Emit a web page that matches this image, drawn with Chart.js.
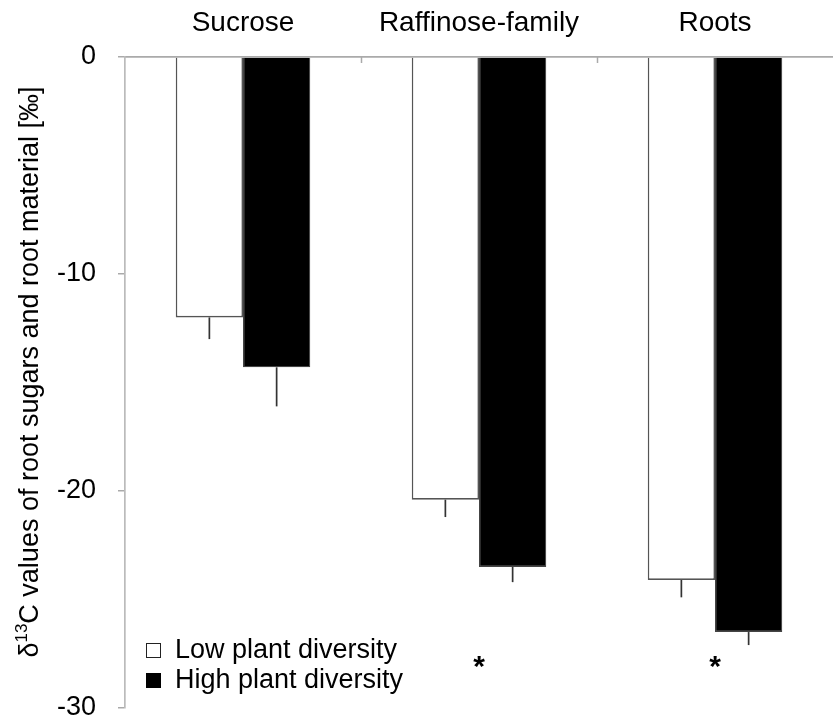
<!DOCTYPE html>
<html>
<head>
<meta charset="utf-8">
<script src="https://cdn.jsdelivr.net/npm/chart.js@4"></script>
<style>
  html, body { margin: 0; padding: 0; background: #ffffff; }
  #c { display: block; }
</style>
</head>
<body>
<canvas id="c" width="833" height="722"></canvas>
<script>
// ---- data ----
const categories = ['Sucrose', 'Raffinose-family', 'Roots'];
const seriesLabels = ['Low plant diversity', 'High plant diversity'];
const lowValues = [-12.0, -20.4, -24.1];
const highValues = [-14.3, -23.5, -26.5];
const lowErrors = [1.0, 0.8, 0.8];
const highErrors = [1.8, 0.7, 0.6];
const significance = ['', '*', '*'];
const yTicks = [0, -10, -20, -30];
const yLabelPrefix = 'δ';
const yLabelSup = '13';
const yLabelRest = 'C values of root sugars and root material [‰]';

const FONT = "'Liberation Sans', Arial, sans-serif";
const errorsBySeries = [lowErrors, highErrors];

const extrasPlugin = {
  id: 'extras',
  afterDatasetsDraw(chart) {
    const ctx = chart.ctx;
    const xs = chart.scales.x;
    const ys = chart.scales.y;
    const area = chart.chartArea;
    ctx.save();
    // error bars (one-sided, downward)
    chart.data.datasets.forEach((ds, d) => {
      const meta = chart.getDatasetMeta(d);
      const errs = errorsBySeries[d];
      meta.data.forEach((bar, i) => {
        const v = ds.data[i];
        const y0 = ys.getPixelForValue(v);
        const y1 = ys.getPixelForValue(v - errs[i]);
        ctx.beginPath();
        ctx.strokeStyle = '#333333';
        ctx.lineWidth = 1.7;
        ctx.moveTo(bar.x, y0);
        ctx.lineTo(bar.x, y1);
        ctx.stroke();
      });
    });
    // category boundary tick marks pointing into the plot
    for (let i = 0; i < categories.length; i++) {
      const x = xs.getPixelForValue(i + 0.5);
      if (x >= area.right - 1) continue;
      ctx.beginPath();
      ctx.strokeStyle = '#aaaaaa';
      ctx.lineWidth = 1.5;
      ctx.moveTo(Math.round(x) + 0.5, area.top);
      ctx.lineTo(Math.round(x) + 0.5, area.top + 6);
      ctx.stroke();
    }
    // significance markers
    ctx.fillStyle = '#000000';
    ctx.font = 'bold 30px ' + FONT;
    ctx.textAlign = 'center';
    ctx.textBaseline = 'alphabetic';
    significance.forEach((s, i) => {
      if (!s) return;
      const x = xs.getPixelForValue(i);
      ctx.fillText(s, x, ys.getPixelForValue(-28.0) + 11);
    });
    // legend (inside plot, lower left)
    const legX = 146, legY = [650, 680];
    chart.data.datasets.forEach((ds, d) => {
      const cy = legY[d];
      if (d === 0) {
        ctx.fillStyle = '#ffffff';
        ctx.fillRect(legX, cy - 7, 15, 15);
        ctx.strokeStyle = '#222222';
        ctx.lineWidth = 1;
        ctx.strokeRect(legX + 0.5, cy - 6.5, 14, 14);
      } else {
        ctx.fillStyle = '#000000';
        ctx.fillRect(legX, cy - 7, 15, 15);
      }
      ctx.fillStyle = '#000000';
      ctx.font = '27px ' + FONT;
      ctx.textAlign = 'left';
      ctx.textBaseline = 'middle';
      ctx.fillText(ds.label, 175, cy + 1);
    });
    // y-axis title with superscript
    const cx = 28, cyMid = 372;
    ctx.translate(cx, cyMid);
    ctx.rotate(-Math.PI / 2);
    const big = '27px ' + FONT, small = '17px ' + FONT;
    ctx.font = big;
    const w1 = ctx.measureText(yLabelPrefix).width;
    const w3 = ctx.measureText(yLabelRest).width;
    ctx.font = small;
    const w2 = ctx.measureText(yLabelSup).width;
    const total = w1 + w2 + w3;
    let x0 = -total / 2;
    ctx.textAlign = 'left';
    ctx.textBaseline = 'alphabetic';
    ctx.fillStyle = '#000000';
    ctx.font = big;
    ctx.fillText(yLabelPrefix, x0, 10);
    ctx.font = small;
    ctx.fillText(yLabelSup, x0 + w1, -1);
    ctx.font = big;
    ctx.fillText(yLabelRest, x0 + w1 + w2, 10);
    ctx.restore();
  }
};

new Chart(document.getElementById('c'), {
  type: 'bar',
  data: {
    labels: categories,
    datasets: [
      {
        label: seriesLabels[0],
        data: lowValues,
        backgroundColor: '#ffffff',
        borderColor: '#555555',
        borderWidth: 1.6,
        categoryPercentage: 0.57,
        barPercentage: 1.0
      },
      {
        label: seriesLabels[1],
        data: highValues,
        backgroundColor: '#000000',
        borderColor: '#444444',
        borderWidth: 1.2,
        categoryPercentage: 0.57,
        barPercentage: 1.0
      }
    ]
  },
  options: {
    responsive: false,
    devicePixelRatio: 1,
    animation: false,
    layout: { padding: { left: 0, right: 0, top: 0, bottom: 14 } },
    plugins: {
      legend: { display: false },
      tooltip: { enabled: false },
      title: { display: false }
    },
    scales: {
      x: {
        type: 'category',
        position: 'top',
        offset: true,
        grid: { display: false, drawTicks: false },
        border: { display: true, color: '#aaaaaa', width: 1.7 },
        ticks: {
          color: '#000000',
          font: { family: FONT, size: 28 },
          padding: 17,
          maxRotation: 0,
          autoSkip: false
        },
        afterFit(scale) { scale.height = 57; scale.paddingLeft = 0; scale.paddingRight = 0; }
      },
      y: {
        min: -30,
        max: 0,
        afterBuildTicks(scale) { scale.ticks = yTicks.map(v => ({ value: v })); },
        grid: {
          display: true,
          drawOnChartArea: false,
          drawTicks: true,
          tickLength: 7,
          color: '#aaaaaa',
          lineWidth: 1.5
        },
        border: { display: true, color: '#bbbbbb', width: 1.7 },
        ticks: {
          color: '#000000',
          font: { family: FONT, size: 27 },
          padding: 22,
          callback: (v) => String(v)
        },
        afterFit(scale) { scale.width = 125; scale.paddingTop = 0; scale.paddingBottom = 0; }
      }
    }
  },
  plugins: [extrasPlugin]
});
</script>
</body>
</html>
